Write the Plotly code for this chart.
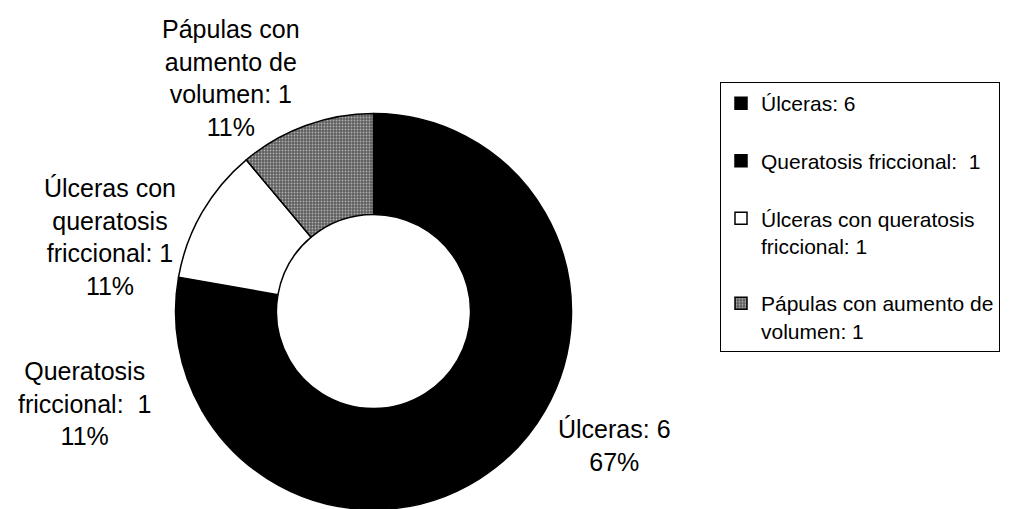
import plotly.graph_objects as go

# ---- data ----
categories = ["Úlceras", "Queratosis friccional", "Úlceras con queratosis friccional", "Pápulas con aumento de volumen"]
values = [6, 1, 1, 1]
# wrapped slice label texts (as printed beside the donut)
slice_label_text = [
    "Úlceras: 6",
    "Queratosis<br>friccional:&nbsp; 1",
    "Úlceras con<br>queratosis<br>friccional: 1",
    "Pápulas con<br>aumento de<br>volumen: 1",
]
# legend texts (as printed in the legend box)
legend_text = [
    "Úlceras: 6",
    "Queratosis friccional:&nbsp; 1",
    "Úlceras con queratosis<br>friccional: 1",
    "Pápulas con aumento de<br>volumen: 1",
]
slice_colors = ["#000000", "#000000", "#ffffff", "#5e5e5e"]
slice_patterns = ["", "", "", "."]

# ---- layout constants ----
W, H = 1010, 509
OFF = 8  # page body margin offset
FONT = "Liberation Sans, Arial, sans-serif"
legend_pad_lines = [1, 1, 1, 0]  # extra blank lines to space legend entries

legend_labels = [t + "<br>&nbsp;" * n for t, n in zip(legend_text, legend_pad_lines)]

total = sum(values)
pcts = [round(v / total * 100) for v in values]

cx, cy, R = 373.5 - OFF, 311.5 - OFF, 198

fig = go.Figure()
fig.add_trace(go.Pie(
    labels=legend_labels,
    values=values,
    sort=False,
    direction="clockwise",
    rotation=0,
    hole=0.49,
    textinfo="none",
    marker=dict(
        colors=slice_colors,
        line=dict(color="#000000", width=1.5),
        pattern=dict(shape=slice_patterns, bgcolor=slice_colors, fgcolor="#b0b0b0",
                     size=3, solidity=0.3),
    ),
    domain=dict(x=[(cx - R) / W, (cx + R) / W], y=[(H - cy - R) / H, (H - cy + R) / H]),
    showlegend=True,
))

# outside labels (positions in screen px)
label_pos = [(614, 445), (84, 403), (110, 237), (231, 78)]
for txt, p, (px, py) in zip(slice_label_text, pcts, label_pos):
    fig.add_annotation(
        x=(px - OFF) / W, y=1 - (py - OFF) / H, xref="paper", yref="paper",
        text=f"{txt}<br>{p}%", showarrow=False,
        xanchor="center", yanchor="middle", align="center",
        font=dict(family=FONT, size=25, color="#000000"),
    )

fig.update_layout(
    width=W, height=H,
    margin=dict(l=0, r=0, t=0, b=0),
    paper_bgcolor="#ffffff",
    plot_bgcolor="#ffffff",
    font=dict(family=FONT, color="#000000"),
    legend=dict(
        x=(720 - OFF) / W, y=1 - (82 - OFF) / H, xanchor="left", yanchor="top",
        bordercolor="#000000", borderwidth=1, bgcolor="#ffffff",
        font=dict(family=FONT, size=21, color="#000000"),
        valign="top", traceorder="normal",
    ),
)

fig.write_html("out.html")
